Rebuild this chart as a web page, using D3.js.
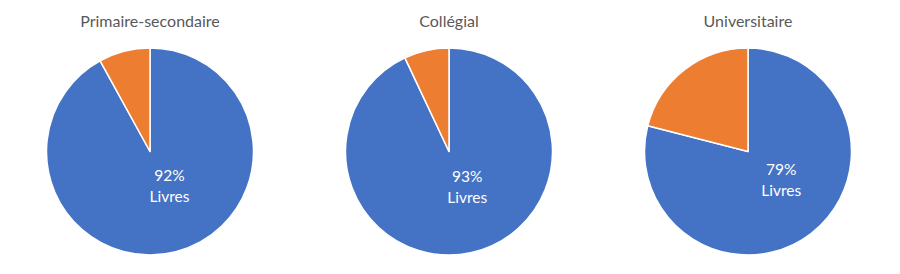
<!DOCTYPE html>
<html><head><meta charset="utf-8">
<script src="https://cdn.jsdelivr.net/npm/d3@7"></script>
<style>html,body{margin:0;padding:0;background:#fff;}svg{display:block;}</style>
</head><body>
<svg id="chart" width="900" height="274"></svg>
<script>
const titles = ["Primaire-secondaire", "Collégial", "Universitaire"];
const categories = ["Livres", "Autres"];
const livres = [92, 93, 79];
const autres = [8, 7, 21];
const colors = ["#4472C4", "#ED7D31"];

const W = 900, H = 274;
const svg = d3.select("#chart");
const xPos = d3.scalePoint().domain(titles).range([150, 748]);
const r = 103.5, cy = 151.5;
const color = d3.scaleOrdinal().domain(categories).range(colors);
const pie = d3.pie().sort(null).value(d => d.v);
const arc = d3.arc().innerRadius(0).outerRadius(r);
const labelArc = d3.arc().innerRadius(38).outerRadius(38);

titles.forEach((t, i) => {
  const cx = xPos(t);
  const g = svg.append("g").attr("transform", `translate(${cx},${cy})`);
  const data = [{k: categories[0], v: livres[i]}, {k: categories[1], v: autres[i]}];
  const arcs = pie(data);
  g.selectAll("path").data(arcs).join("path")
    .attr("d", arc).attr("fill", d => color(d.data.k))
    .attr("stroke", "#fff").attr("stroke-width", 1.5).attr("stroke-linejoin", "round");
  const a = arcs[0];
  const c = labelArc.centroid(a);
  const lx = c[0] + 10, ly = c[1];
  const lab = g.append("text").attr("text-anchor", "middle")
    .attr("font-family", "Lato, 'Open Sans', sans-serif").attr("font-size", 15.5).attr("fill", "#fff");
  lab.append("tspan").attr("x", lx).attr("y", ly - 7).text(a.data.v + "%");
  lab.append("tspan").attr("x", lx).attr("y", ly + 14).text(a.data.k);
  svg.append("text").attr("x", cx).attr("y", 27).attr("text-anchor", "middle")
    .attr("font-family", "Lato, 'Open Sans', sans-serif").attr("font-size", 16).attr("fill", "#595959")
    .text(t);
});
</script>
</body></html>
